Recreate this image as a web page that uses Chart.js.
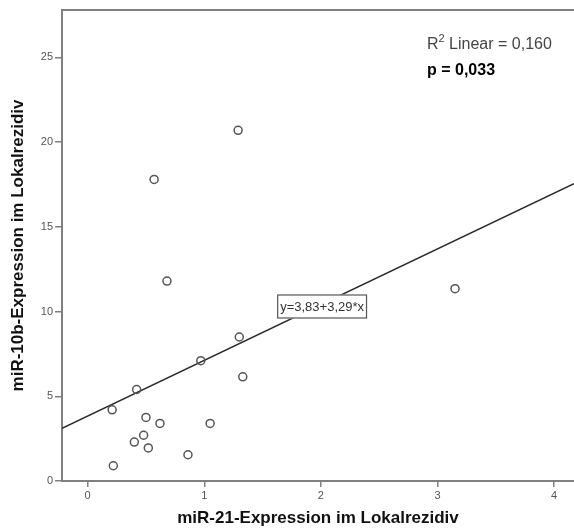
<!DOCTYPE html>
<html>
<head>
<meta charset="utf-8">
<script src="https://cdn.jsdelivr.net/npm/chart.js@4.4.1/dist/chart.umd.min.js"></script>
<style>
  html, body { margin: 0; padding: 0; background: #fff; }
  #wrap { width: 574px; height: 531px; position: relative; }
</style>
</head>
<body>
<div id="wrap"><canvas id="chart"></canvas></div>
<script>
// miR-21 (x) vs miR-10b (y) expression, local recurrence
const mir21  = [1.29, 0.57, 0.68, 3.15, 1.30, 0.97, 1.33, 1.05, 0.86, 0.42, 0.21, 0.50, 0.62, 0.48, 0.40, 0.52, 0.22];
const mir10b = [20.7, 17.8, 11.8, 11.35, 8.5, 7.1, 6.15, 3.4, 1.55, 5.4, 4.2, 3.75, 3.4, 2.7, 2.3, 1.95, 0.9];
const fitIntercept = 3.83;
const fitSlope = 3.29;
const xRange = [-0.22, 4.17];
const yRange = [0, 27.8];
const xTicks = [0, 1, 2, 3, 4];
const yTicks = [0, 5, 10, 15, 20, 25];
const fitLabel = 'y=3,83+3,29*x';
const r2Text = ' Linear = 0,160';
const pText = 'p = 0,033';

const points = mir21.map((x, i) => ({ x: x, y: mir10b[i] }));
const fitLine = xRange.map(x => ({ x: x, y: fitIntercept + fitSlope * x }));

const FONT = 'Liberation Sans, Arial, sans-serif';
const axisColor = '#808080';
const tickFont = { family: FONT, size: 11 };
const titleFont = { family: FONT, size: 17, weight: 'bold' };

// frame top border, fit label box and the R²/p annotation
const extras = {
  id: 'extras',
  afterDraw(chart) {
    const ctx = chart.ctx;
    const a = chart.chartArea;
    const xs = chart.scales.x, ys = chart.scales.y;
    ctx.save();
    ctx.strokeStyle = axisColor;
    ctx.lineWidth = 2;
    ctx.beginPath();
    ctx.moveTo(a.left - 1, a.top);
    ctx.lineTo(a.right, a.top);
    ctx.stroke();

    // regression label box
    ctx.font = '13px ' + FONT;
    const bx = xs.getPixelForValue(1.625);
    const by = ys.getPixelForValue(10.3);
    const w = ctx.measureText(fitLabel).width + 5;
    ctx.fillStyle = '#fff';
    ctx.fillRect(bx, by - 12, w, 24);
    ctx.strokeStyle = '#555';
    ctx.lineWidth = 1.2;
    ctx.strokeRect(bx + 0.5, by - 11.5, w, 23);
    ctx.fillStyle = '#333';
    ctx.textBaseline = 'middle';
    ctx.fillText(fitLabel, bx + 3, by + 1);

    // R² and p
    const tx = 427;
    ctx.textBaseline = 'alphabetic';
    ctx.fillStyle = '#444';
    ctx.font = '16px ' + FONT;
    ctx.fillText('R', tx, 49);
    let off = tx + ctx.measureText('R').width;
    ctx.font = '11px ' + FONT;
    ctx.fillText('2', off, 42);
    off += ctx.measureText('2').width;
    ctx.font = '16px ' + FONT;
    ctx.fillText(r2Text, off, 49);
    ctx.fillStyle = '#000';
    ctx.font = 'bold 16px ' + FONT;
    ctx.fillText(pText, tx, 75);
    ctx.restore();
  }
};

new Chart(document.getElementById('chart'), {
  type: 'scatter',
  data: {
    datasets: [
      {
        data: points,
        pointStyle: 'circle',
        pointRadius: 4,
        pointBorderWidth: 1.5,
        pointBorderColor: '#555',
        pointBackgroundColor: 'rgba(255,255,255,0)',
        order: 1
      },
      {
        type: 'line',
        data: fitLine,
        borderColor: '#2a2a2a',
        borderWidth: 1.6,
        pointRadius: 0,
        fill: false,
        order: 2
      }
    ]
  },
  options: {
    responsive: true,
    maintainAspectRatio: false,
    animation: false,
    devicePixelRatio: 1,
    layout: { autoPadding: false, padding: { top: 10, right: 0, left: 0, bottom: 0 } },
    plugins: { legend: { display: false }, tooltip: { enabled: false } },
    scales: {
      x: {
        type: 'linear',
        min: xRange[0],
        max: xRange[1],
        afterBuildTicks: s => { s.ticks = xTicks.map(v => ({ value: v })); },
        afterFit: s => { s.height = 50; },
        grid: { display: true, drawOnChartArea: false, drawTicks: true, tickLength: 6, color: axisColor, lineWidth: 1.5 },
        border: { display: true, color: axisColor, width: 2 },
        ticks: { color: '#555', font: tickFont, padding: 2, maxRotation: 0, callback: v => String(v) },
        title: { display: true, text: 'miR-21-Expression im Lokalrezidiv', color: '#111', font: titleFont, padding: { top: 0, bottom: 2 } }
      },
      y: {
        type: 'linear',
        min: yRange[0],
        max: yRange[1],
        afterBuildTicks: s => { s.ticks = yTicks.map(v => ({ value: v })); },
        afterFit: s => { s.width = 62; },
        grid: { display: true, drawOnChartArea: false, drawTicks: true, tickLength: 7, color: axisColor, lineWidth: 1.5 },
        border: { display: true, color: axisColor, width: 2 },
        ticks: { color: '#555', font: tickFont, padding: 2, callback: v => String(v) },
        title: { display: true, text: 'miR-10b-Expression im Lokalrezidiv', color: '#111', font: titleFont, padding: { top: 8, bottom: 0 } }
      }
    }
  },
  plugins: [extras]
});
</script>
</body>
</html>
